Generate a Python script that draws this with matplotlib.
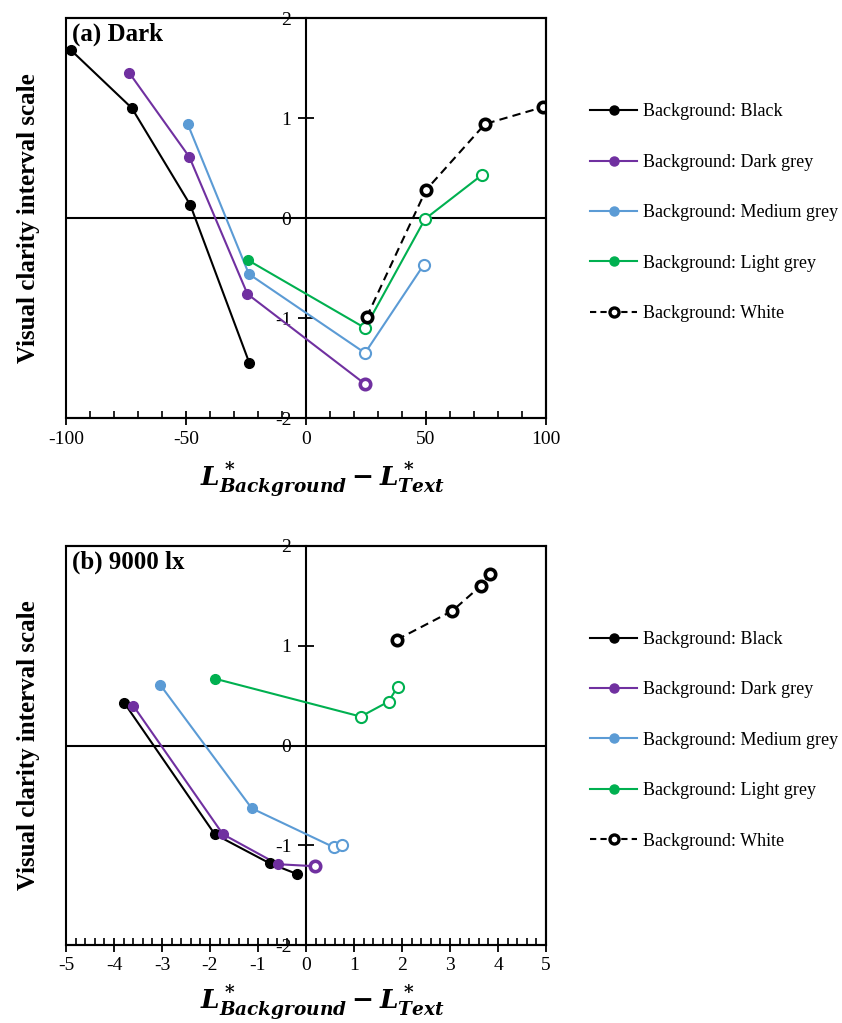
import matplotlib
matplotlib.use("Agg")
import matplotlib.pyplot as plt
from matplotlib.lines import Line2D
from matplotlib.patches import Rectangle
from matplotlib.ticker import MultipleLocator
import numpy as np

plt.rcParams['font.family'] = ['Liberation Serif', 'DejaVu Serif']
plt.rcParams['mathtext.fontset'] = 'custom'
plt.rcParams['mathtext.it'] = 'DejaVu Serif:italic:bold'
plt.rcParams['mathtext.rm'] = 'DejaVu Serif:bold'
plt.rcParams['mathtext.bf'] = 'DejaVu Serif:bold'

series_names = ["Background: Black", "Background: Dark grey", "Background: Medium grey",
                "Background: Light grey", "Background: White"]
series_colors = ["#000000", "#7030A0", "#5B9BD5", "#00B050", "#000000"]

# Panel (a) Dark
a_black_x = [-98, -72.6, -48.2, -23.6]
a_black_y = [1.68, 1.10, 0.13, -1.45]
a_dgrey_x = [-73.6, -48.6, -24.4, 24.6]
a_dgrey_y = [1.45, 0.61, -0.76, -1.66]
a_mgrey_x = [-49.3, -23.8, 24.6, 49.0]
a_mgrey_y = [0.94, -0.56, -1.35, -0.47]
a_lgrey_x = [-24.3, 24.6, 49.6, 73.3]
a_lgrey_y = [-0.42, -1.10, -0.01, 0.43]
a_white_x = [25.3, 50.0, 74.6, 98.9]
a_white_y = [-0.99, 0.28, 0.94, 1.11]

# Panel (b) 9000 lx
b_black_x = [-3.79, -1.90, -0.76, -0.18]
b_black_y = [0.43, -0.89, -1.18, -1.29]
b_dgrey_x = [-3.60, -1.73, -0.59, 0.18]
b_dgrey_y = [0.40, -0.89, -1.19, -1.21]
b_mgrey_x = [-3.04, -1.13, 0.58, 0.76]
b_mgrey_y = [0.61, -0.63, -1.02, -1.00]
b_lgrey_x = [-1.90, 1.14, 1.72, 1.91]
b_lgrey_y = [0.67, 0.29, 0.44, 0.59]
b_white_x = [1.89, 3.05, 3.64, 3.83]
b_white_y = [1.06, 1.35, 1.60, 1.72]

y_ticks = [-2, -1, 0, 1, 2]
a_xticks = [-100, -50, 0, 50, 100]
b_xticks = [-5, -4, -3, -2, -1, 0, 1, 2, 3, 4, 5]

W, H = 842, 1023
fig = plt.figure(figsize=(W / 100, H / 100), dpi=100)

def px_axes(l, t, r, b):
    return fig.add_axes([l / W, 1 - b / H, (r - l) / W, (b - t) / H])

ax_a = px_axes(66, 18, 546, 418)
ax_b = px_axes(66, 546, 546, 945)

def draw_panel(ax, data, xlim, xticks, minor, title, xlabel_y, legend_y):
    for i, (xs, ys) in enumerate(data):
        xs = np.asarray(xs); ys = np.asarray(ys)
        col = series_colors[i]
        white = (i == 4)
        ax.plot(xs, ys, color=col, lw=1.5, ls=(0, (4, 2.5)) if white else '-', zorder=3)
        neg = xs < 0
        if neg.any():
            ax.plot(xs[neg], ys[neg], 'o', color=col, ms=7, zorder=4)
        pos = ~neg
        if pos.any():
            if white or i == 1:
                ax.plot(xs[pos], ys[pos], 'o', mfc='white', mec=col, mew=2.6, ms=7.5, zorder=4)
            else:
                ax.plot(xs[pos], ys[pos], 'o', mfc='white', mec=col, mew=1.5, ms=8, zorder=4)
    ax.set_xlim(*xlim)
    ax.set_ylim(-2, 2)
    ax.axhline(0, color='black', lw=1.5, zorder=2)
    ax.spines['left'].set_position(('data', 0))
    for s in ['left', 'right', 'top', 'bottom']:
        ax.spines[s].set_linewidth(1.5)
    ax.add_patch(Rectangle((0, 0), 1, 1, transform=ax.transAxes, fill=False,
                           lw=1.5, ec='black', zorder=5, clip_on=False))
    ax.set_xticks(xticks)
    ax.set_xticklabels([str(t) for t in xticks])
    ax.xaxis.set_minor_locator(MultipleLocator(minor))
    ax.set_yticks(y_ticks)
    ax.set_yticklabels([str(t) for t in y_ticks])
    ax.tick_params(axis='x', which='major', direction='inout', length=10, width=1.3,
                   labelsize=14, pad=4)
    ax.tick_params(axis='x', which='minor', direction='in', length=5, width=1.2)
    ax.tick_params(axis='y', which='major', direction='inout', length=11, width=1.3,
                   labelsize=14, pad=5)
    ax.tick_params(top=False, right=False)
    ax.set_ylabel("Visual clarity interval scale", fontsize=18, fontweight='bold')
    ax.yaxis.set_label_coords(-0.054, 0.5)
    ax.set_xlabel(r"$L^*_{Background}-L^*_{Text}$", fontsize=19)
    ax.xaxis.set_label_coords(0.535, xlabel_y)
    ax.text(0.012, 0.988, title, transform=ax.transAxes, ha='left', va='top',
            fontsize=18, fontweight='bold', zorder=6)

    handles = []
    for i in range(5):
        if i == 4:
            handles.append(Line2D([], [], color='black', lw=1.5, ls=(0, (3, 2)), marker='o',
                                  mfc='white', mec='black', mew=2.4, ms=6.5))
        else:
            handles.append(Line2D([], [], color=series_colors[i], lw=1.5, marker='o', ms=6.5))
    ax.legend(handles, series_names, loc='center left', bbox_to_anchor=(1.092, legend_y),
              frameon=False, fontsize=13, handlelength=2.6, handletextpad=0.33,
              labelspacing=1.85, borderpad=0, borderaxespad=0)

draw_panel(ax_a, [(a_black_x, a_black_y), (a_dgrey_x, a_dgrey_y), (a_mgrey_x, a_mgrey_y),
                  (a_lgrey_x, a_lgrey_y), (a_white_x, a_white_y)],
           (-100, 100), a_xticks, 10, "(a) Dark", -0.105, 0.513)
draw_panel(ax_b, [(b_black_x, b_black_y), (b_dgrey_x, b_dgrey_y), (b_mgrey_x, b_mgrey_y),
                  (b_lgrey_x, b_lgrey_y), (b_white_x, b_white_y)],
           (-5, 5), b_xticks, 0.2, "(b) 9000 lx", -0.093, 0.513)

fig.savefig("out.png", dpi=100)
